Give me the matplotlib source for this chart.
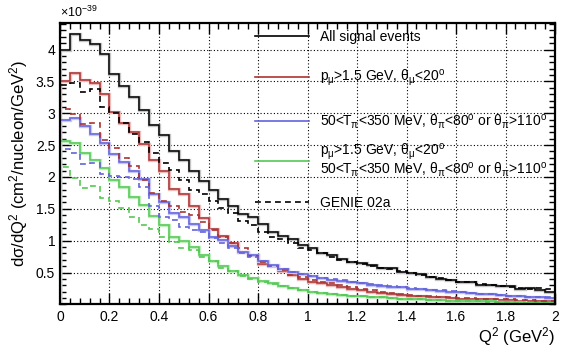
import numpy as np
import matplotlib.pyplot as plt
from matplotlib.lines import Line2D
from matplotlib.ticker import MultipleLocator

plt.rcParams['font.family'] = ['Liberation Sans', 'DejaVu Sans']
plt.rcParams['mathtext.fontset'] = 'custom'
plt.rcParams['mathtext.rm'] = 'Liberation Sans'
plt.rcParams['mathtext.it'] = 'Liberation Sans'
plt.rcParams['mathtext.default'] = 'regular'

# Q^2 binning (GeV^2), 50 bins of 0.04
bin_width = 0.04
q2_edges = np.arange(51) * bin_width

# dsigma/dQ2 in units of 1e-39 cm^2/nucleon/GeV^2
all_signal = [4.00, 4.24, 4.15, 4.08, 3.93, 3.61, 3.42, 3.26, 3.05, 2.82,
              2.66, 2.40, 2.27, 2.10, 1.94, 1.80, 1.66, 1.55, 1.42, 1.37,
              1.26, 1.13, 1.07, 1.02, 0.93, 0.88, 0.81, 0.78, 0.71, 0.67,
              0.65, 0.62, 0.58, 0.57, 0.51, 0.50, 0.48, 0.43, 0.40, 0.38,
              0.36, 0.36, 0.31, 0.31, 0.29, 0.29, 0.25, 0.26, 0.22, 0.20]
all_genie = [3.45, 3.48, 3.34, 3.38, 3.10, 3.01, 2.84, 2.68, 2.55, 2.38,
             2.22, 2.11, 1.96, 1.80, 1.73, 1.63, 1.51, 1.44, 1.31, 1.25,
             1.13, 1.06, 1.02, 0.97, 0.89, 0.86, 0.80, 0.75, 0.70, 0.66,
             0.63, 0.60, 0.57, 0.55, 0.52, 0.49, 0.46, 0.43, 0.41, 0.39,
             0.36, 0.35, 0.32, 0.30, 0.29, 0.28, 0.26, 0.25, 0.26, 0.24]
muon_cut = [3.50, 3.63, 3.52, 3.47, 3.30, 3.02, 2.84, 2.71, 2.51, 2.27,
            2.10, 1.81, 1.73, 1.54, 1.36, 1.18, 1.08, 0.96, 0.83, 0.77,
            0.63, 0.61, 0.52, 0.46, 0.40, 0.36, 0.34, 0.31, 0.28, 0.25,
            0.22, 0.20, 0.18, 0.17, 0.15, 0.14, 0.13, 0.12, 0.11, 0.10,
            0.09, 0.09, 0.08, 0.08, 0.07, 0.07, 0.06, 0.06, 0.05, 0.05]
muon_genie = [3.06, 2.99, 2.83, 2.84, 2.58, 2.46, 2.30, 2.18, 1.95, 1.75,
              1.63, 1.55, 1.45, 1.40, 1.30, 1.17, 1.06, 0.97, 0.88, 0.76,
              0.67, 0.60, 0.54, 0.47, 0.43, 0.39, 0.36, 0.33, 0.30, 0.27,
              0.24, 0.22, 0.20, 0.18, 0.17, 0.15, 0.14, 0.13, 0.12, 0.11,
              0.10, 0.10, 0.09, 0.09, 0.08, 0.08, 0.07, 0.07, 0.06, 0.06]
pion_cut = [2.89, 2.92, 2.80, 2.68, 2.54, 2.36, 2.23, 2.09, 1.97, 1.74,
            1.61, 1.43, 1.37, 1.26, 1.17, 1.06, 1.01, 0.91, 0.82, 0.77,
            0.68, 0.62, 0.55, 0.51, 0.48, 0.45, 0.42, 0.39, 0.37, 0.35,
            0.33, 0.31, 0.29, 0.28, 0.27, 0.25, 0.24, 0.23, 0.21, 0.20,
            0.19, 0.18, 0.17, 0.16, 0.15, 0.14, 0.13, 0.12, 0.11, 0.10]
pion_genie = [2.44, 2.38, 2.21, 2.22, 2.04, 2.01, 2.00, 1.97, 1.85, 1.55,
              1.38, 1.33, 1.22, 1.17, 1.13, 1.04, 0.96, 0.88, 0.80, 0.74,
              0.68, 0.61, 0.56, 0.51, 0.48, 0.45, 0.42, 0.40, 0.38, 0.36,
              0.34, 0.32, 0.30, 0.29, 0.27, 0.26, 0.25, 0.23, 0.22, 0.21,
              0.20, 0.18, 0.17, 0.16, 0.15, 0.14, 0.13, 0.12, 0.12, 0.11]
both_cut = [2.56, 2.54, 2.38, 2.27, 2.14, 1.96, 1.84, 1.69, 1.56, 1.39,
            1.25, 1.06, 0.99, 0.90, 0.77, 0.68, 0.60, 0.53, 0.46, 0.41,
            0.37, 0.33, 0.29, 0.26, 0.23, 0.20, 0.18, 0.16, 0.15, 0.14,
            0.13, 0.12, 0.11, 0.10, 0.09, 0.09, 0.08, 0.07, 0.07, 0.06,
            0.06, 0.05, 0.05, 0.05, 0.04, 0.04, 0.04, 0.03, 0.03, 0.03]
both_genie = [2.15, 1.98, 1.83, 1.86, 1.67, 1.63, 1.51, 1.38, 1.25, 1.19,
              1.06, 0.98, 0.88, 0.85, 0.74, 0.69, 0.58, 0.52, 0.45, 0.40,
              0.36, 0.32, 0.29, 0.26, 0.23, 0.20, 0.18, 0.16, 0.15, 0.14,
              0.13, 0.12, 0.11, 0.10, 0.09, 0.08, 0.08, 0.07, 0.07, 0.06,
              0.06, 0.05, 0.05, 0.04, 0.04, 0.04, 0.03, 0.03, 0.03, 0.03]

labels = ['All signal events',
          r'p$_{\mu}$>1.5 GeV, $\theta_{\mu}$<20$^{o}$',
          r'50<T$_{\pi}$<350 MeV, $\theta_{\pi}$<80$^{o}$ or $\theta_{\pi}$>110$^{o}$',
          r'p$_{\mu}$>1.5 GeV, $\theta_{\mu}$<20$^{o}$' + '\n' +
          r'50<T$_{\pi}$<350 MeV, $\theta_{\pi}$<80$^{o}$ or $\theta_{\pi}$>110$^{o}$',
          'GENIE 02a']

colors = ['black', '#aa3333', '#6464dc', '#55c855']
halos = ['#c4c4c4', '#eabcbc', '#c6c6f4', '#c0ecc0']
mc = [all_signal, muon_cut, pion_cut, both_cut]
genie = [all_genie, muon_genie, pion_genie, both_genie]

fig = plt.figure(figsize=(5.66, 3.47), dpi=100)
ax = fig.add_axes([0.106, 0.1225, 0.8746, 0.812])

ax.grid(True, which='major', color='black', linestyle=(0, (1, 2)), linewidth=0.8)
ax.set_axisbelow(True)

for vals, col, halo in zip(mc, colors, halos):
    ax.stairs(vals, q2_edges, baseline=0, color=halo, linewidth=2.4)
    ax.stairs(vals, q2_edges, baseline=0, color=col, linewidth=1.1)
for vals, col in zip(genie, colors):
    ax.stairs(vals, q2_edges, baseline=0, color=col, linewidth=1.2,
              linestyle=(0, (3.5, 2.5)))

ax.set_xlim(0, 2)
ax.set_ylim(0, 4.42)
ax.xaxis.set_minor_locator(MultipleLocator(0.04))
ax.yaxis.set_minor_locator(MultipleLocator(0.1))
ax.tick_params(which='both', direction='in', top=True, right=True, labelsize=10)
ax.tick_params(which='major', length=8, width=1)
ax.tick_params(which='minor', length=4, width=1)
ax.set_xticks(np.arange(0, 2.01, 0.2))
ax.set_xticklabels(['0', '0.2', '0.4', '0.6', '0.8', '1', '1.2', '1.4', '1.6', '1.8', '2'])
ax.set_yticks(np.arange(0.5, 4.01, 0.5))
ax.set_yticklabels(['0.5', '1', '1.5', '2', '2.5', '3', '3.5', '4'])
ax.tick_params(axis='x', pad=4)
for sp in ax.spines.values():
    sp.set_linewidth(1.6)

ax.set_ylabel(r'd$\sigma$/dQ$^{2}$ (cm$^{2}$/nucleon/GeV$^{2}$)', fontsize=12, labelpad=4)
ax.set_xlabel(r'Q$^{2}$ (GeV$^{2}$)', fontsize=12, loc='right', labelpad=1)
ax.text(0.0, 1.01, r'$\times$10$^{-39}$', transform=ax.transAxes, fontsize=9,
        ha='left', va='bottom')

handles = [Line2D([], [], color=c, linewidth=1.2) for c in colors]
handles.append(Line2D([], [], color='black', linewidth=1.2, linestyle=(0, (3.5, 2.5))))
leg_style = dict(loc='upper left', frameon=False, fontsize=10, handlelength=3.9,
                 handletextpad=0.8, borderaxespad=0, borderpad=0.3)
leg1 = ax.legend(handles[:3], labels[:3], bbox_to_anchor=(0.385, 0.99),
                 labelspacing=1.75, **leg_style)
ax.add_artist(leg1)
leg2 = ax.legend(handles[3:], labels[3:], bbox_to_anchor=(0.385, 0.594),
                 labelspacing=1.2, **leg_style)
leg2.get_texts()[0].set_linespacing(0.95)

fig.savefig('out.png', dpi=100)
